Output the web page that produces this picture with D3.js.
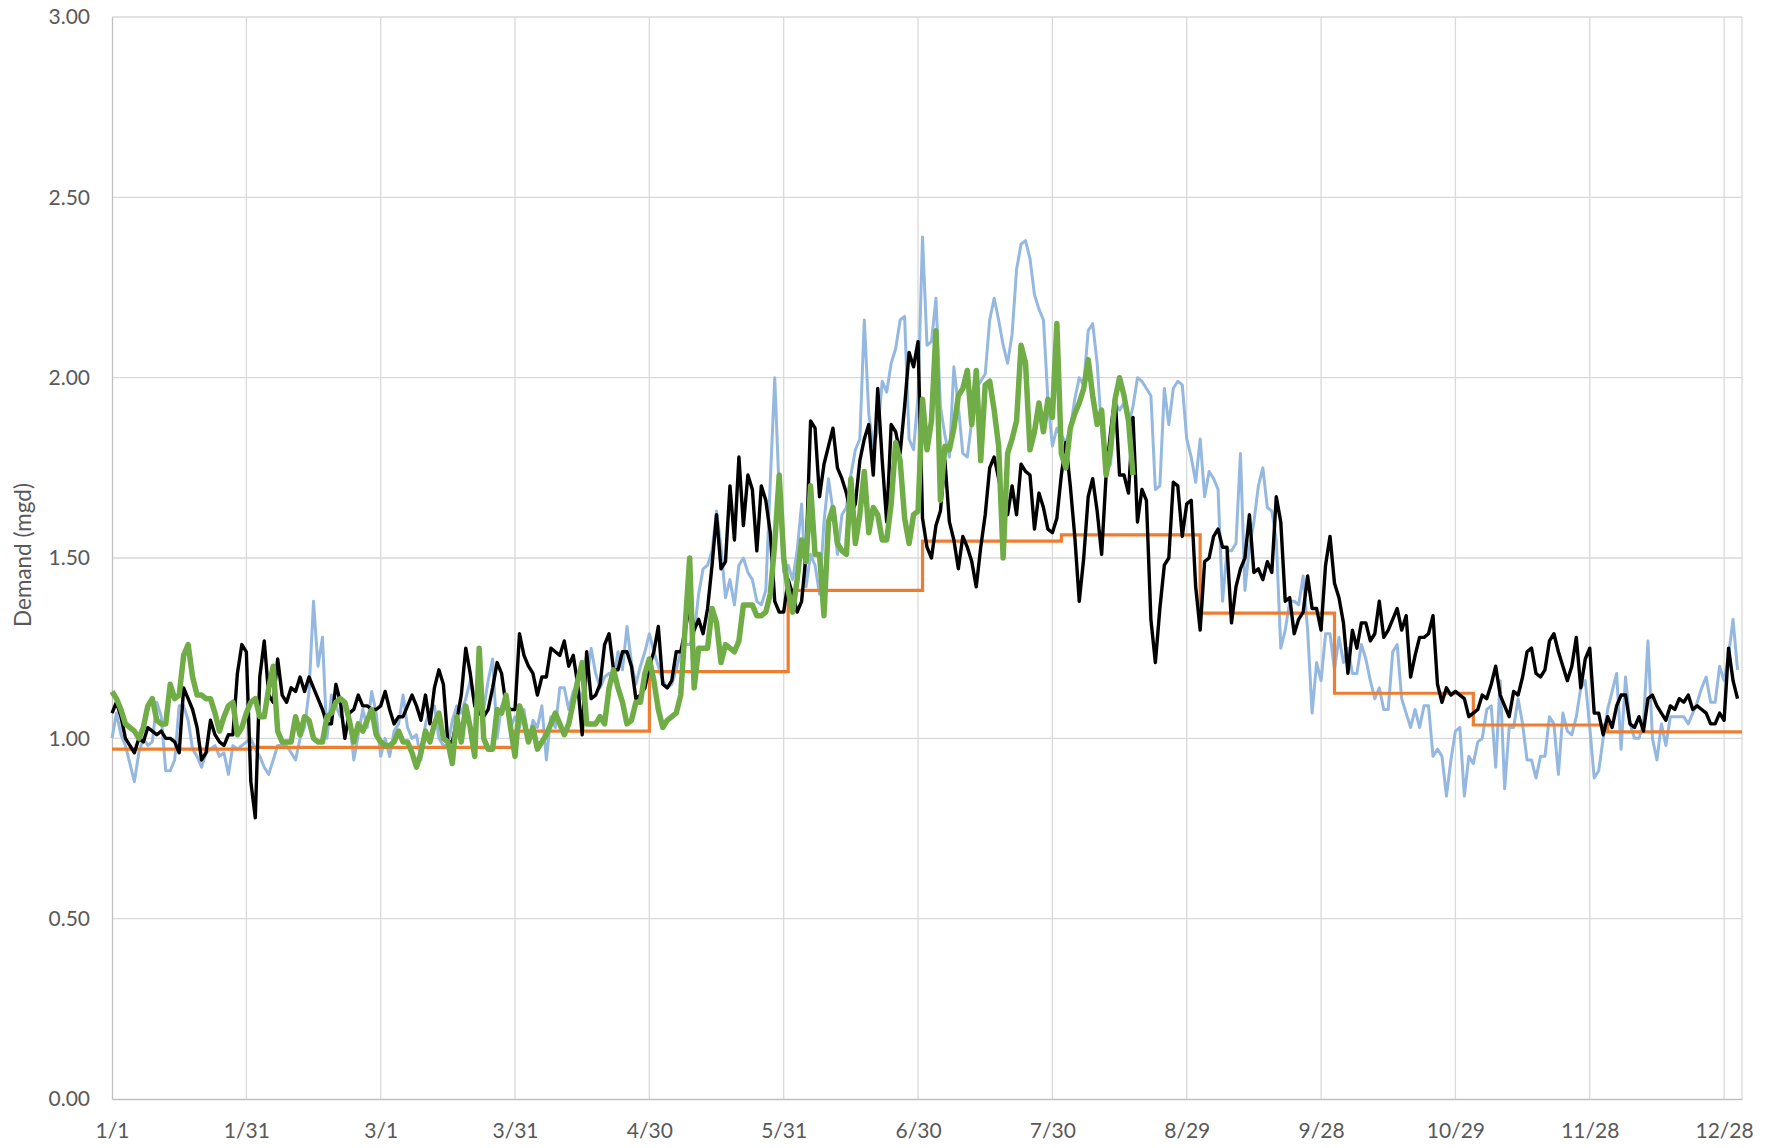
<!DOCTYPE html>
<html>
<head>
<meta charset="utf-8">
<script src="https://cdn.jsdelivr.net/npm/d3@7"></script>
<style>
  body { margin: 0; background: #fff; }
  svg { display: block; font-family: Lato, "Open Sans", sans-serif; }
</style>
</head>
<body>
<div id="chart"></div>
<script>
// Daily demand (mgd), day index 0 = 1/1
const tickLabels = ["1/1", "1/31", "3/1", "3/31", "4/30", "5/31", "6/30", "7/30", "8/29", "9/28", "10/29", "11/28", "12/28"];

const blueDemand = [
  1.00,1.07,1.01,0.98,0.93,0.88,0.96,1.00,0.98,0.99,1.10,1.06,0.91,0.91,0.94,1.09,1.09,1.05,0.97,0.95,0.92,0.96,0.97,0.98,0.95,0.96,0.90,0.98,0.97,0.98,0.99,
  1.00,0.97,0.95,0.92,0.90,0.94,0.98,0.98,0.98,0.96,0.94,1.00,1.03,1.13,1.38,1.20,1.28,1.00,1.12,1.09,1.06,1.10,1.06,0.94,1.01,1.08,1.03,1.13,1.07,
  0.95,1.00,0.95,1.02,1.04,1.12,1.03,1.00,1.01,0.94,1.04,1.08,1.09,1.00,0.98,0.98,1.05,1.09,1.07,1.11,1.16,1.09,1.08,1.08,1.16,1.22,1.00,1.09,1.10,1.03,1.06,
  1.03,1.08,0.99,1.05,1.03,1.09,0.94,1.06,1.03,1.14,1.14,1.08,1.13,1.14,1.11,1.16,1.25,1.18,1.14,1.17,1.18,1.16,1.24,1.19,1.31,1.21,1.15,1.20,1.24,1.29,1.24,
  1.20,1.16,1.14,1.15,1.19,1.24,1.26,1.26,1.29,1.40,1.47,1.48,1.52,1.63,1.53,1.39,1.44,1.37,1.48,1.50,1.46,1.44,1.38,1.37,1.41,1.71,2.00,1.68,1.46,1.48,
  1.44,1.52,1.65,1.42,1.51,1.48,1.40,1.60,1.72,1.63,1.51,1.62,1.64,1.73,1.80,1.83,2.16,1.90,1.81,1.85,1.99,1.96,2.04,2.08,2.16,2.17,1.83,1.80,1.95,
  2.39,2.09,2.10,2.22,1.92,1.84,1.78,2.03,1.92,1.79,1.78,1.88,1.97,1.99,2.01,2.16,2.22,2.16,2.09,2.04,2.12,2.30,2.37,2.38,2.33,2.23,2.19,2.16,1.94,1.81,1.86,1.84,1.82,
  1.86,1.94,2.00,1.98,2.13,2.15,2.04,1.85,1.74,1.76,1.93,1.91,1.93,1.87,1.92,2.00,1.99,1.97,1.95,1.69,1.70,1.97,1.87,1.97,1.99,1.98,1.83,1.78,1.71,1.83,
  1.67,1.74,1.72,1.69,1.38,1.52,1.52,1.54,1.79,1.41,1.53,1.60,1.70,1.75,1.64,1.63,1.55,1.25,1.30,1.38,1.38,1.37,1.45,1.30,1.07,1.21,1.16,1.29,1.29,
  1.19,1.28,1.21,1.25,1.18,1.18,1.26,1.22,1.16,1.11,1.14,1.08,1.08,1.24,1.26,1.11,1.07,1.03,1.08,1.03,1.09,1.09,0.95,0.97,0.95,0.84,0.94,1.02,1.03,0.84,
  0.95,0.93,0.99,1.00,1.08,1.09,0.92,1.16,0.86,1.03,1.03,1.11,1.04,0.94,0.94,0.89,0.95,0.95,1.06,1.04,0.90,1.07,1.02,1.01,1.06,1.14,1.16,1.03,0.89,0.91,
  1.00,1.08,1.13,1.18,0.97,1.17,1.04,1.00,1.00,1.04,1.27,1.00,0.94,1.04,0.98,1.06,1.06,1.06,1.06,1.04,1.07,1.10,1.14,1.17,1.10,1.10,1.20,1.16,1.23,1.33,1.19
];

const blackDemand = [
  1.07,1.10,1.06,1.00,0.98,0.96,1.00,0.99,1.03,1.02,1.01,1.02,1.00,1.00,0.99,0.96,1.14,1.11,1.08,1.03,0.94,0.96,1.05,1.01,0.99,0.98,1.01,1.01,1.18,1.26,1.24,
  0.88,0.78,1.17,1.27,1.12,1.10,1.22,1.12,1.10,1.14,1.13,1.17,1.13,1.17,1.14,1.11,1.08,1.04,1.04,1.15,1.10,1.00,1.07,1.08,1.12,1.09,1.09,1.08,1.08,
  1.09,1.13,1.08,1.04,1.06,1.06,1.09,1.12,1.09,1.05,1.12,1.04,1.14,1.19,1.15,0.99,0.99,1.05,1.12,1.25,1.18,1.09,1.07,1.06,1.08,1.14,1.21,1.18,1.09,1.08,1.08,
  1.29,1.23,1.20,1.18,1.12,1.17,1.17,1.25,1.24,1.23,1.27,1.20,1.23,1.15,1.01,1.24,1.11,1.12,1.15,1.26,1.29,1.19,1.19,1.24,1.24,1.20,1.11,1.12,1.14,1.20,1.24,
  1.31,1.15,1.14,1.16,1.24,1.24,1.30,1.37,1.30,1.33,1.29,1.36,1.48,1.62,1.47,1.49,1.70,1.55,1.78,1.59,1.73,1.69,1.52,1.70,1.66,1.57,1.38,1.35,1.35,1.44,
  1.40,1.35,1.38,1.51,1.88,1.86,1.67,1.76,1.81,1.86,1.75,1.72,1.68,1.62,1.65,1.77,1.83,1.87,1.73,1.97,1.77,1.60,1.87,1.85,1.79,1.92,2.07,2.03,2.10,
  1.61,1.53,1.50,1.59,1.63,1.77,1.60,1.55,1.47,1.56,1.53,1.49,1.42,1.53,1.62,1.75,1.78,1.72,1.66,1.62,1.70,1.62,1.76,1.74,1.73,1.58,1.68,1.64,1.58,1.57,1.61,1.73,1.82,
  1.70,1.56,1.38,1.50,1.67,1.72,1.63,1.51,1.73,1.85,1.95,1.73,1.73,1.68,1.89,1.60,1.69,1.66,1.33,1.21,1.36,1.48,1.50,1.71,1.70,1.56,1.65,1.66,1.42,1.30,
  1.49,1.50,1.56,1.58,1.53,1.53,1.32,1.42,1.47,1.50,1.62,1.46,1.47,1.44,1.49,1.46,1.67,1.60,1.38,1.39,1.29,1.33,1.35,1.45,1.36,1.36,1.30,1.48,1.56,
  1.43,1.39,1.32,1.18,1.30,1.25,1.32,1.32,1.27,1.29,1.38,1.28,1.30,1.33,1.36,1.30,1.34,1.17,1.23,1.28,1.28,1.29,1.34,1.15,1.10,1.14,1.12,1.13,1.12,1.11,
  1.06,1.07,1.08,1.12,1.11,1.15,1.20,1.12,1.09,1.06,1.13,1.12,1.17,1.24,1.25,1.18,1.17,1.19,1.27,1.29,1.24,1.20,1.16,1.20,1.28,1.14,1.22,1.25,1.07,1.07,
  1.01,1.06,1.03,1.09,1.12,1.12,1.04,1.03,1.06,1.02,1.11,1.12,1.09,1.07,1.05,1.09,1.08,1.11,1.10,1.12,1.08,1.09,1.08,1.07,1.04,1.04,1.07,1.05,1.25,1.16,1.11
];

const greenDemand = [
  1.13,1.11,1.08,1.04,1.03,1.02,1.00,1.03,1.09,1.11,1.05,1.04,1.04,1.15,1.11,1.12,1.23,1.26,1.17,1.12,1.12,1.11,1.11,1.07,1.02,1.06,1.09,1.10,1.01,1.03,1.07,
  1.10,1.11,1.06,1.06,1.14,1.20,1.02,0.99,0.99,0.99,1.06,1.01,1.06,1.05,1.00,0.99,0.99,1.06,1.07,1.10,1.11,1.10,1.05,0.99,1.04,1.02,1.05,1.08,1.01,
  0.99,0.98,0.98,0.99,1.02,0.99,0.99,0.96,0.92,0.96,1.02,0.99,1.04,1.07,1.00,0.99,0.93,1.06,0.99,1.09,1.03,0.95,1.25,1.00,0.97,0.97,1.08,1.07,1.12,1.03,0.95,
  1.09,1.05,0.99,1.03,0.97,0.99,1.01,1.04,1.07,1.04,1.01,1.04,1.10,1.16,1.21,1.04,1.04,1.04,1.06,1.04,1.14,1.19,1.14,1.10,1.04,1.05,1.10,1.10,1.18,1.22,1.16,
  1.08,1.03,1.05,1.06,1.07,1.12,1.31,1.50,1.14,1.25,1.25,1.25,1.36,1.32,1.21,1.26,1.25,1.24,1.27,1.37,1.37,1.37,1.34,1.34,1.35,1.40,1.54,1.73,1.50,1.41,
  1.35,1.44,1.55,1.49,1.70,1.51,1.51,1.34,1.60,1.64,1.54,1.52,1.51,1.72,1.54,1.62,1.74,1.57,1.64,1.62,1.55,1.55,1.65,1.82,1.77,1.61,1.54,1.62,1.63,
  1.94,1.80,1.88,2.13,1.66,1.81,1.80,1.86,1.95,1.97,2.02,1.87,2.02,1.77,1.98,1.99,1.91,1.81,1.50,1.79,1.83,1.88,2.09,2.04,1.80,1.85,1.93,1.85,1.94,1.89,2.15,1.79,
  1.75,1.86,1.90,1.93,1.97,2.05,1.95,1.87,1.91,1.73,1.80,1.94,2.00,1.95,1.88,1.73
];

// monthly step series: first day of each month and its value
const monthStart = [0, 31, 59, 90, 120, 151, 181, 212, 243, 273, 304, 334];
const monthlyDemand = [0.97, 0.975, 0.975, 1.02, 1.185, 1.41, 1.547, 1.564, 1.347, 1.125, 1.037, 1.018];
const lastDay = 364;

const yTicks = [0, 0.5, 1.0, 1.5, 2.0, 2.5, 3.0];
const tickDays = tickLabels.map((d, i) => i * 30);

const width = 1776, height = 1148;
const plotLeft = 112, plotRight = 1742, plotTop = 17, plotBottom = 1099;

const svg = d3.select("#chart").append("svg")
  .attr("width", width)
  .attr("height", height);

const x = d3.scaleLinear().domain([0, lastDay]).range([plotLeft, plotRight]);
const y = d3.scaleLinear().domain([0, 3]).range([plotBottom, plotTop]);

// gridlines
const grid = svg.append("g").attr("stroke", "#d9d9d9").attr("stroke-width", 1.3);
grid.selectAll(".hg").data(yTicks.slice(1)).join("line")
  .attr("x1", plotLeft).attr("x2", plotRight)
  .attr("y1", d => y(d)).attr("y2", d => y(d));
grid.selectAll(".vg").data(tickDays.slice(1).concat([lastDay])).join("line")
  .attr("x1", d => x(d)).attr("x2", d => x(d))
  .attr("y1", plotTop).attr("y2", plotBottom);

// axes
const xAxis = svg.append("g")
  .attr("transform", `translate(0,${plotBottom})`)
  .call(d3.axisBottom(x).tickValues(tickDays).tickFormat((d, i) => tickLabels[i]).tickSize(0).tickPadding(24));
const yAxis = svg.append("g")
  .attr("transform", `translate(${plotLeft},0)`)
  .call(d3.axisLeft(y).tickValues(yTicks).tickFormat(d3.format(".2f")).tickSize(0).tickPadding(22));

[xAxis, yAxis].forEach(g => {
  g.select(".domain").attr("stroke", "#bfbfbf").attr("stroke-width", 1.3);
  g.selectAll("text").attr("fill", "#595959").style("font-size", "21px").style("font-family", "Lato, 'Open Sans', sans-serif");
});

svg.append("text")
  .attr("transform", `translate(25,${(plotTop + plotBottom) / 2 - 3}) rotate(-90)`)
  .attr("text-anchor", "middle")
  .attr("dominant-baseline", "middle")
  .attr("fill", "#595959")
  .style("font-size", "22.5px")
  .text("Demand (mgd)");

// series
const daily = d3.line().x((d, i) => x(i)).y(d => y(d));

svg.append("path")
  .attr("d", daily(blueDemand))
  .attr("fill", "none").attr("stroke", "#95b8e0").attr("stroke-width", 3)
  .attr("stroke-linejoin", "round");

const steps = monthStart.map((d, i) => [d, monthlyDemand[i]]);
steps.push([lastDay, monthlyDemand[monthlyDemand.length - 1]]);
svg.append("path")
  .attr("d", d3.line().x(d => x(d[0])).y(d => y(d[1])).curve(d3.curveStepAfter)(steps))
  .attr("fill", "none").attr("stroke", "#ed7d31").attr("stroke-width", 3.2);

svg.append("path")
  .attr("d", daily(blackDemand))
  .attr("fill", "none").attr("stroke", "#000").attr("stroke-width", 3.4)
  .attr("stroke-linejoin", "round");

svg.append("path")
  .attr("d", daily(greenDemand))
  .attr("fill", "none").attr("stroke", "#70ad47").attr("stroke-width", 5.5)
  .attr("stroke-linejoin", "round");
</script>
</body>
</html>
